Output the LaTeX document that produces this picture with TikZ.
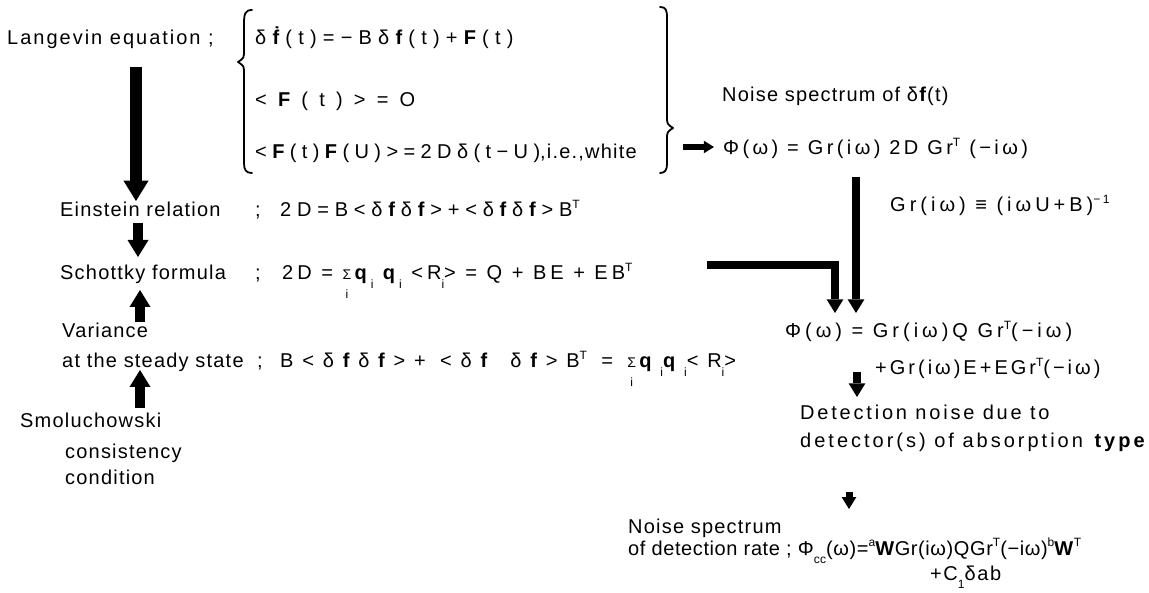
\documentclass[tikz,border=0pt]{standalone}
\usepackage{fontspec}
\setmainfont{Liberation Sans}[LetterSpace=8]
\usetikzlibrary{arrows.meta}
\newcommand\tsup[1]{\raisebox{0.85ex}{\fontsize{12}{12}\selectfont #1}}
\newcommand\tsub[1]{\raisebox{-0.8ex}{\fontsize{12}{12}\selectfont #1}}
\newcommand\bsf[1]{\textbf{#1}}
\newcommand\sumi{\ooalign{\fontsize{14}{14}\selectfont Σ\cr\hidewidth\raisebox{-0.95em}{\fontsize{12}{12}\selectfont i}\hidewidth\cr}}
\newcommand\ls[1]{\addfontfeatures{LetterSpace=#1}}
\newcommand\fs{\fontsize{20}{24}\selectfont}
\tikzset{
  lbl/.style={anchor=base west, inner sep=0pt, font=\fs},
  brc/.style={line width=1.8pt, line cap=round, line join=round},
  bigarr/.style={line width=#1, -{Triangle[length=1.7*#1, width=2.1*#1, line width=0pt]}}
}
\begin{document}
\begin{tikzpicture}[x=1pt,y=-1pt]
\useasboundingbox (0,0) rectangle (1149,593);
% texts
\node[lbl] (lang) at (7,45) {\ls{10}Langevin equation ;};
\node[lbl] (eq1) at (255,45) {\ls{31}δ\bsf{ḟ}(t)=−Bδ\bsf{f}(t)+\bsf{F}(t)};
\node[lbl] (eq2) at (255,107) {\ls{56}<\bsf{F}(t)>=O};
\node[lbl] (eq3) at (255,159) {\ls{27}<\bsf{F}(t)\bsf{F}(U)>=2Dδ(t−U){\ls{6},i.e.,white}};
\node[lbl] (ns1) at (722,102) {\ls{6}Noise spectrum of δ\bsf{f}(t)};
\node[lbl] (phi1) at (723,155) {\ls{17}Φ(ω) = Gr(iω) 2D Gr\tsup{T} (−iω)};
\node[lbl] (gr) at (890,212) {\ls{20}Gr(iω) ≡ (iωU+B)\tsup{−1}};
\node[lbl] (ein) at (60,217) {\ls{6}Einstein relation};
\node[lbl] (einsc) at (255,217) {;};
\node[lbl] (eineq) at (280,217) {\ls{29}2D=B<δ\bsf{f}δ\bsf{f}>+<δ\bsf{f}δ\bsf{f}>B\tsup{T}};
\node[lbl] (sch) at (60,280) {\ls{6}Schottky formula};
\node[lbl] (schsc) at (255,280) {;};
\node[lbl] (scheq) at (282,280) {\ls{20}2D = \sumi\,\bsf{q}\tsub{i} \bsf{q}\tsub{i} <R\tsub{i}> = Q + BE + EB\tsup{T}};
\node[lbl] (var) at (62,338) {\ls{6}Variance};
\node[lbl] (ss) at (62,368) {\ls{6}at the steady state};
\node[lbl] (sssc) at (257,368) {;};
\node[lbl] (sseq) at (280,368) {\ls{44}B<δ\bsf{f}δ\bsf{f}>+ <δ\bsf{f} δ\bsf{f}>B\tsup{T} = \sumi\,\bsf{q}\tsub{i}\bsf{q}\tsub{i}<R\tsub{i}>};
\node[lbl] (smo) at (20,428) {\ls{6}Smoluchowski};
\node[lbl] (con1) at (65,458) {\ls{6}consistency};
\node[lbl] (con2) at (65,485) {\ls{6}condition};
\node[lbl] (phi2) at (785,338) {\ls{20}Φ(ω) = Gr(iω)Q Gr\tsup{T}(−iω)};
\node[lbl] (phi2b) at (875,375) {\ls{15}+Gr(iω)E+EGr\tsup{T}(−iω)};
\node[lbl] (det1) at (800,420) {\ls{14}Detection noise due to};
\node[lbl] (det2) at (800,448) {\ls{15}detector(s) of absorption \bsf{type}};
\node[lbl] (ns2) at (628,533) {\ls{6}Noise spectrum};
\node[lbl] (ns2b) at (628,555) {\ls{3}of detection rate ; Φ\tsub{cc}(ω)=\tsup{a}\bsf{W}Gr(iω)QGr\tsup{T}(−iω)\tsup{b}\bsf{W}\tsup{T}};
\node[lbl] (c1) at (930,580) {\ls{8}+C\tsub{1}δab};
% braces
\draw[brc] (252,10) .. controls (245,10) and (244,14) .. (244,24) -- (244,50) .. controls (244,58) .. (238,62) .. controls (244,66) .. (244,74) -- (244,163) .. controls (244,170) and (246,173) .. (252,173);
\draw[brc] (660,7) .. controls (666,7) and (667,10) .. (667,18) -- (667,116) .. controls (667,124) .. (673,128) .. controls (667,132) .. (667,140) -- (667,164) .. controls (667,170) and (665,173) .. (660,173);
% arrow coordinates
\coordinate (a1s) at (136,67);  \coordinate (a1e) at (136,201);
\coordinate (a2s) at (138,223); \coordinate (a2e) at (138,257);
\coordinate (a3s) at (140,322); \coordinate (a3e) at (140,290);
\coordinate (a4s) at (140,408); \coordinate (a4e) at (140,370);
\coordinate (a5s) at (683,147); \coordinate (a5e) at (714,147);
\coordinate (a6s) at (856,177); \coordinate (a6e) at (856,313);
\coordinate (a7s) at (707,265); \coordinate (a7e) at (835,313);
\coordinate (a8s) at (857,372); \coordinate (a8e) at (857,397);
\coordinate (a9s) at (849,492); \coordinate (a9e) at (849,509);
\draw[bigarr=12pt] (a1s) -- (a1e);
\draw[bigarr=10pt] (a2s) -- (a2e);
\draw[bigarr=10pt] (a3s) -- (a3e);
\draw[bigarr=10pt] (a4s) -- (a4e);
\draw[bigarr=6pt] (a5s) -- (a5e);
\draw[bigarr=8pt] (a6s) -- (a6e);
\draw[bigarr=8pt, line join=miter] (a7s) -| (a7e);
\draw[bigarr=8pt] (a8s) -- (a8e);
\draw[bigarr=7pt] (a9s) -- (a9e);
\end{tikzpicture}
\end{document}
